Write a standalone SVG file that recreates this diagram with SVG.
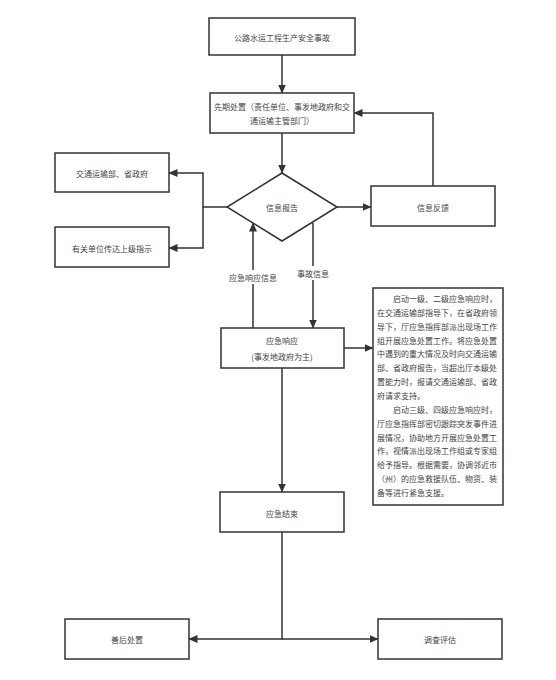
<svg xmlns="http://www.w3.org/2000/svg" width="556" height="680" viewBox="0 0 556 680">
<style>
.box{fill:#fff;stroke:#333;stroke-width:1.5}
.t{font-family:"Noto Sans CJK SC","Noto Sans",sans-serif;font-size:8px;fill:#444;text-anchor:middle;dominant-baseline:central}
.p{font-family:"Noto Sans CJK SC","Noto Sans",sans-serif;font-size:8px;fill:#444;dominant-baseline:central}
.ln{fill:none;stroke:#333;stroke-width:1.5}
.lbl{fill:#fff}
</style>
<defs>
<marker id="ah" markerWidth="9" markerHeight="8" refX="8.5" refY="4" orient="auto" markerUnits="userSpaceOnUse">
<path d="M0,0 L9,4 L0,8 z" fill="#333"/>
</marker>
</defs>
<rect width="556" height="680" fill="#fff"/>
<g id="connectors">
<path class="ln" d="M282,55 V93" marker-end="url(#ah)"/>
<path class="ln" d="M282,133 V173" marker-end="url(#ah)"/>
<path class="ln" d="M227,207 H203 V173 H169" marker-end="url(#ah)"/>
<path class="ln" d="M203,207 V248 H169" marker-end="url(#ah)"/>
<path class="ln" d="M337,207 H371" marker-end="url(#ah)"/>
<path class="ln" d="M433,186 V113 H354" marker-end="url(#ah)"/>
<path class="ln" d="M253,328 V223" marker-end="url(#ah)"/>
<path class="ln" d="M313,223 V328" marker-end="url(#ah)"/>
<path class="ln" d="M344,348 H373" marker-end="url(#ah)"/>
<path class="ln" d="M282,368 V492" marker-end="url(#ah)"/>
<path class="ln" d="M282,532 V639 H189" marker-end="url(#ah)"/>
<path class="ln" d="M282,639 H378" marker-end="url(#ah)"/>
<rect class="lbl" x="228" y="270" width="50" height="14"/>
<text class="t" x="253" y="277">应急响应信息</text>
<rect class="lbl" x="295" y="266" width="36" height="14"/>
<text class="t" x="313" y="273">事故信息</text>
</g>
<g id="accident">
<rect class="box" x="209" y="18" width="146" height="37"/>
<text class="t" x="282" y="37">公路水运工程生产安全事故</text>
</g>
<g id="initial">
<rect class="box" x="210" y="93" width="144" height="40"/>
<text class="t" x="282" y="106">先期处置（责任单位、事发地政府和交</text>
<text class="t" x="282" y="120">通运输主管部门）</text>
</g>
<g id="report">
<path class="box" d="M282,173 L337,207 L282,241 L227,207 z"/>
<text class="t" x="282" y="207">信息报告</text>
</g>
<g id="ministry">
<rect class="box" x="55" y="153" width="114" height="39"/>
<text class="t" x="112" y="173">交通运输部、省政府</text>
</g>
<g id="relay">
<rect class="box" x="55" y="227" width="114" height="40"/>
<text class="t" x="112" y="248">有关单位传达上级指示</text>
</g>
<g id="feedback">
<rect class="box" x="371" y="186" width="124" height="40"/>
<text class="t" x="433" y="207">信息反馈</text>
</g>
<g id="response">
<rect class="box" x="221" y="328" width="123" height="40"/>
<text class="t" x="282" y="340">应急响应</text>
<text class="t" x="282" y="356">(事发地政府为主)</text>
</g>
<g id="detail">
<rect class="box" x="373" y="288" width="130" height="217"/>
<text class="p" x="393" y="298">启动一级、二级应急响应时，</text>
<text class="p" x="377" y="312">在交通运输部指导下，在省政府领</text>
<text class="p" x="377" y="326">导下，厅应急指挥部派出现场工作</text>
<text class="p" x="377" y="340">组开展应急处置工作。将应急处置</text>
<text class="p" x="377" y="353">中遇到的重大情况及时向交通运输</text>
<text class="p" x="377" y="367">部、省政府报告，当超出厅本级处</text>
<text class="p" x="377" y="381">置能力时，报请交通运输部、省政</text>
<text class="p" x="377" y="395">府请求支持。</text>
<text class="p" x="393" y="409">启动三级、四级应急响应时，</text>
<text class="p" x="377" y="423">厅应急指挥部密切跟踪突发事件进</text>
<text class="p" x="377" y="437">展情况，协助地方开展应急处置工</text>
<text class="p" x="377" y="450">作，视情派出现场工作组或专家组</text>
<text class="p" x="377" y="464">给予指导。根据需要，协调邻近市</text>
<text class="p" x="377" y="478">（州）的应急救援队伍、物资、装</text>
<text class="p" x="377" y="492">备等进行紧急支援。</text>
</g>
<g id="end">
<rect class="box" x="220" y="492" width="124" height="40"/>
<text class="t" x="282" y="513">应急结束</text>
</g>
<g id="aftermath">
<rect class="box" x="65" y="619" width="124" height="40"/>
<text class="t" x="127" y="639">善后处置</text>
</g>
<g id="investigation">
<rect class="box" x="378" y="619" width="124" height="40"/>
<text class="t" x="440" y="639">调查评估</text>
</g>
</svg>
